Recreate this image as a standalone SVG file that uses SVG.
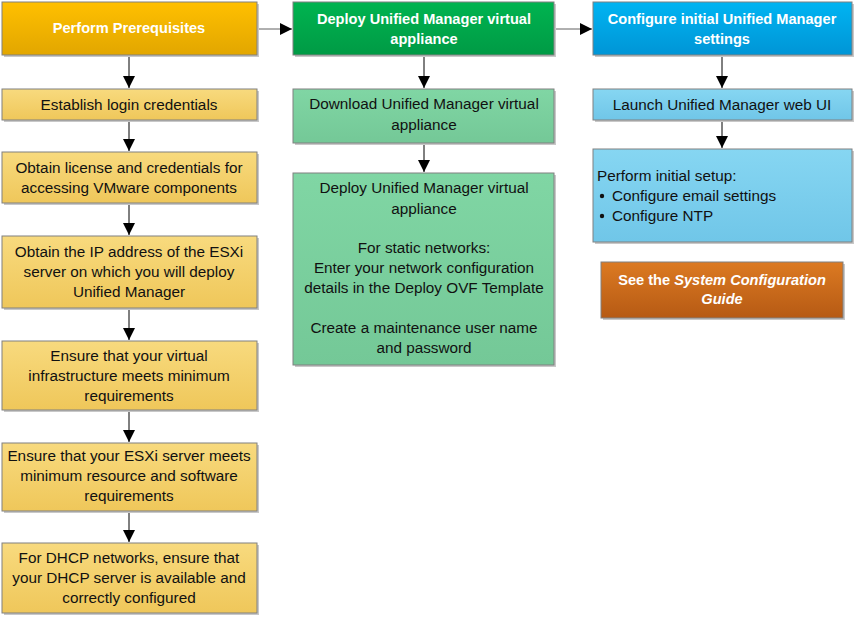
<svg xmlns="http://www.w3.org/2000/svg" width="856" height="620" viewBox="0 0 856 620">
<defs>
<linearGradient id="gOrH" x1="0" y1="0" x2="0" y2="1"><stop offset="0" stop-color="#ffc000"/><stop offset="1" stop-color="#e2a600"/></linearGradient>
<linearGradient id="gOrS" x1="0" y1="0" x2="0" y2="1"><stop offset="0" stop-color="#f8da7e"/><stop offset="1" stop-color="#efc75a"/></linearGradient>
<linearGradient id="gGrH" x1="0" y1="0" x2="0" y2="1"><stop offset="0" stop-color="#00b450"/><stop offset="1" stop-color="#009a45"/></linearGradient>
<linearGradient id="gGrS" x1="0" y1="0" x2="0" y2="1"><stop offset="0" stop-color="#80d6a4"/><stop offset="1" stop-color="#74c897"/></linearGradient>
<linearGradient id="gBlH" x1="0" y1="0" x2="0" y2="1"><stop offset="0" stop-color="#00b4f2"/><stop offset="1" stop-color="#0095d6"/></linearGradient>
<linearGradient id="gBlS" x1="0" y1="0" x2="0" y2="1"><stop offset="0" stop-color="#86d6f2"/><stop offset="1" stop-color="#70c6e8"/></linearGradient>
<linearGradient id="gRd" x1="0" y1="0" x2="0" y2="1"><stop offset="0" stop-color="#dc7a22"/><stop offset="1" stop-color="#b65a14"/></linearGradient>
<marker id="ah" viewBox="0 0 12 12" refX="12" refY="6" markerWidth="12" markerHeight="12" markerUnits="userSpaceOnUse" orient="auto"><path d="M0,0 L12,6 L0,12 z" fill="#000"/></marker>
</defs>
<style>
rect.b{stroke:#808080;stroke-width:1}
rect.sh{fill:#c8c8c8}
text{font-family:"Liberation Sans",Arial,sans-serif;font-size:15.3px;fill:#111;text-anchor:middle}
text.h{font-weight:bold;fill:#fff;font-size:14.6px}
text.l{text-anchor:start}
.c line{stroke:#000;stroke-width:1;marker-end:url(#ah)}
.c line.g{stroke:#606060}
</style>
<rect width="856" height="620" fill="#fff"/>

<g class="c">
<line class="g" x1="257" y1="29" x2="292" y2="29"/>
<line class="g" x1="554" y1="29" x2="592" y2="29"/>
<line x1="129" y1="56" x2="129" y2="88"/>
<line x1="129" y1="121" x2="129" y2="151"/>
<line x1="129" y1="204" x2="129" y2="235"/>
<line x1="129" y1="309" x2="129" y2="340"/>
<line x1="129" y1="411" x2="129" y2="442"/>
<line x1="129" y1="512" x2="129" y2="542"/>
<line x1="424" y1="56" x2="424" y2="88"/>
<line x1="424" y1="144" x2="424" y2="172"/>
<line x1="722" y1="56" x2="722" y2="88"/>
<line x1="722" y1="121" x2="722" y2="148"/>
</g>

<g id="n1"><rect class="sh" x="4" y="4" width="255" height="53"/><rect class="b" x="2" y="2" width="255" height="53" fill="url(#gOrH)"/><text class="h" x="129" y="33">Perform Prerequisites</text></g>
<g id="n2"><rect class="sh" x="4" y="91" width="255" height="31"/><rect class="b" x="2" y="89" width="255" height="31" fill="url(#gOrS)"/><text x="129" y="110">Establish login credentials</text></g>
<g id="n3"><rect class="sh" x="4" y="154" width="255" height="51"/><rect class="b" x="2" y="152" width="255" height="51" fill="url(#gOrS)"/><text x="129" y="173">Obtain license and credentials for</text><text x="129" y="193">accessing VMware components</text></g>
<g id="n4"><rect class="sh" x="4" y="238" width="255" height="72"/><rect class="b" x="2" y="236" width="255" height="72" fill="url(#gOrS)"/><text x="129" y="257">Obtain the IP address of the ESXi</text><text x="129" y="277">server on which you will deploy</text><text x="129" y="297">Unified Manager</text></g>
<g id="n5"><rect class="sh" x="4" y="343" width="255" height="69"/><rect class="b" x="2" y="341" width="255" height="69" fill="url(#gOrS)"/><text x="129" y="361">Ensure that your virtual</text><text x="129" y="381">infrastructure meets minimum</text><text x="129" y="401">requirements</text></g>
<g id="n6"><rect class="sh" x="4" y="445" width="255" height="68"/><rect class="b" x="2" y="443" width="255" height="68" fill="url(#gOrS)"/><text x="129" y="461">Ensure that your ESXi server meets</text><text x="129" y="481">minimum resource and software</text><text x="129" y="501">requirements</text></g>
<g id="n7"><rect class="sh" x="4" y="545" width="255" height="70"/><rect class="b" x="2" y="543" width="255" height="70" fill="url(#gOrS)"/><text x="129" y="563">For DHCP networks, ensure that</text><text x="129" y="583">your DHCP server is available and</text><text x="129" y="603">correctly configured</text></g>

<g id="m1"><rect class="sh" x="295" y="4" width="261" height="53"/><rect class="b" x="293" y="2" width="261" height="53" fill="url(#gGrH)"/><text class="h" x="424" y="24">Deploy Unified Manager virtual</text><text class="h" x="424" y="44">appliance</text></g>
<g id="m2"><rect class="sh" x="295" y="91" width="261" height="54"/><rect class="b" x="293" y="89" width="261" height="54" fill="url(#gGrS)"/><text x="424" y="109">Download Unified Manager virtual</text><text x="424" y="130">appliance</text></g>
<g id="m3"><rect class="sh" x="295" y="175" width="261" height="192"/><rect class="b" x="293" y="173" width="261" height="192" fill="url(#gGrS)"/><text x="424" y="193">Deploy Unified Manager virtual</text><text x="424" y="214">appliance</text><text x="424" y="253">For static networks:</text><text x="424" y="273">Enter your network configuration</text><text x="424" y="293">details in the Deploy OVF Template</text><text x="424" y="333">Create a maintenance user name</text><text x="424" y="353">and password</text></g>

<g id="r1"><rect class="sh" x="595" y="4" width="259" height="53"/><rect class="b" x="593" y="2" width="259" height="53" fill="url(#gBlH)"/><text class="h" x="722" y="24">Configure initial Unified Manager</text><text class="h" x="722" y="44">settings</text></g>
<g id="r2"><rect class="sh" x="595" y="91" width="259" height="31"/><rect class="b" x="593" y="89" width="259" height="31" fill="url(#gBlS)"/><text x="722" y="110">Launch Unified Manager web UI</text></g>
<g id="r3"><rect class="sh" x="595" y="151" width="259" height="93"/><rect class="b" x="593" y="149" width="259" height="93" fill="url(#gBlS)"/><text class="l" x="597" y="181">Perform initial setup:</text><circle cx="602" cy="196" r="2.2" fill="#111"/><text class="l" x="612" y="201">Configure email settings</text><circle cx="602" cy="216" r="2.2" fill="#111"/><text class="l" x="612" y="221">Configure NTP</text></g>
<g id="r4"><rect class="sh" x="603" y="264" width="242" height="56"/><rect class="b" x="601" y="262" width="242" height="56" fill="url(#gRd)"/><text class="h" x="722" y="285">See the <tspan font-style="italic">System Configuration</tspan></text><text class="h" x="722" y="304" font-style="italic">Guide</text></g>
</svg>
